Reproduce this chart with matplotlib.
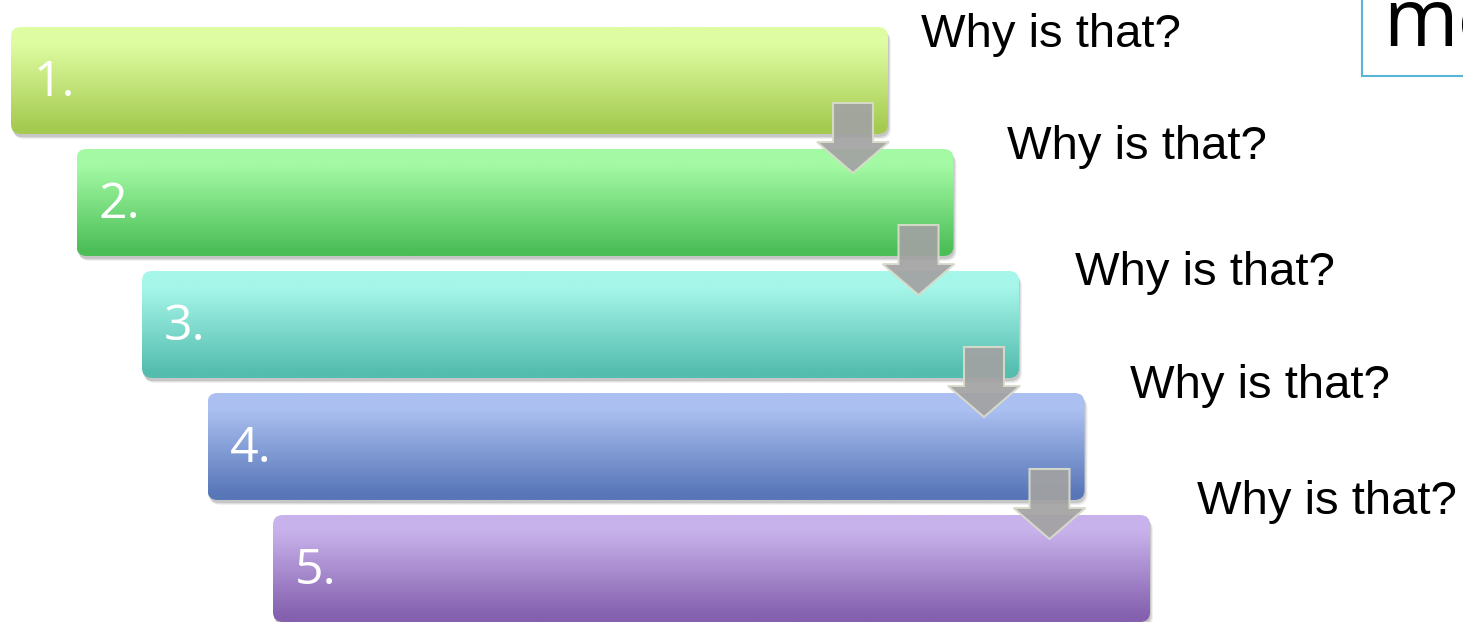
import numpy as np
import matplotlib.pyplot as plt
from matplotlib.patches import FancyBboxPatch, Polygon, Rectangle
from matplotlib.colors import to_rgb

# data
labels = ["1.", "2.", "3.", "4.", "5."]
questions = ["Why is that?"] * 5
top_colors = ["#defda2", "#a4faa4", "#a6f6ea", "#abc0f1", "#c8b2eb"]
bottom_colors = ["#a5ca50", "#4cbe58", "#54bdae", "#5876b8", "#8460ae"]
corner_word = "me"

W, H = 1463, 622
fig = plt.figure(figsize=(W / 100, H / 100), dpi=100)
ax = fig.add_axes([0, 0, 1, 1])
ax.set_xlim(0, W)
ax.set_ylim(H, 0)
ax.axis('off')

x0, y0 = 11, 27
dx, dy = 65.5, 122
bw, bh = 877, 107

def gradient(c1, c2, n=100):
    a = np.array(to_rgb(c1))
    b = np.array(to_rgb(c2))
    t = np.linspace(0, 1, n)
    t = np.clip((t - 0.15) / 0.8, 0, 1)
    return (a[None, :] * (1 - t[:, None]) + b[None, :] * t[:, None])[:, None, :]

for i, lab in enumerate(labels):
    bx = x0 + i * dx
    by = y0 + i * dy
    # shadow
    for k, al in enumerate([0.10, 0.08, 0.06]):
        sh = FancyBboxPatch((bx + 1 + k, by + 3 + k), bw, bh,
                            boxstyle="round,pad=0,rounding_size=10",
                            fc='#000000', ec='none', alpha=al, zorder=1 + i * 3)
        ax.add_patch(sh)
    box = FancyBboxPatch((bx, by), bw, bh, boxstyle="round,pad=0,rounding_size=10",
                         fc='none', ec='none', zorder=2 + i * 3)
    ax.add_patch(box)
    im = ax.imshow(gradient(top_colors[i], bottom_colors[i]), extent=[bx, bx + bw, by + bh, by],
                   origin='upper', aspect='auto', interpolation='bilinear', zorder=2 + i * 3)
    im.set_clip_path(box)
    ax.text(bx + 22, by + 69, lab, color='white', fontsize=36, family='Open Sans',
            ha='left', va='baseline', zorder=3 + i * 3)

# arrows between boxes
for i in range(len(labels) - 1):
    cx = x0 + i * dx + bw - 35
    bot = y0 + i * dy + bh
    ytop = bot - 31
    ybase = bot + 8
    ytip = y0 + (i + 1) * dy + 24
    pts = [(cx - 20, ytop), (cx + 20, ytop), (cx + 20, ybase), (cx + 36, ybase),
           (cx, ytip), (cx - 36, ybase), (cx - 20, ybase)]
    ax.add_patch(Polygon(pts, closed=True, fc='#a2a2a2', ec='#d9dccb', lw=1.5,
                         alpha=0.92, joinstyle='miter', zorder=30))

# question text
qx = [921, 1007, 1075, 1130, 1197]
qy = [47, 159, 285, 398, 514]
for i, q in enumerate(questions):
    ax.text(qx[i], qy[i], q, fontsize=34, family='Liberation Sans',
            color='black', ha='left', va='baseline', zorder=31)

# corner box
ax.add_patch(Rectangle((1362, -10), 200, 86, fc='white', ec='#5ab4d6', lw=1.5, zorder=31))
ax.text(1383, 46, corner_word, fontsize=58, family='Open Sans', color='black',
        ha='left', va='baseline', zorder=32)

fig.savefig('out.png', dpi=100)
